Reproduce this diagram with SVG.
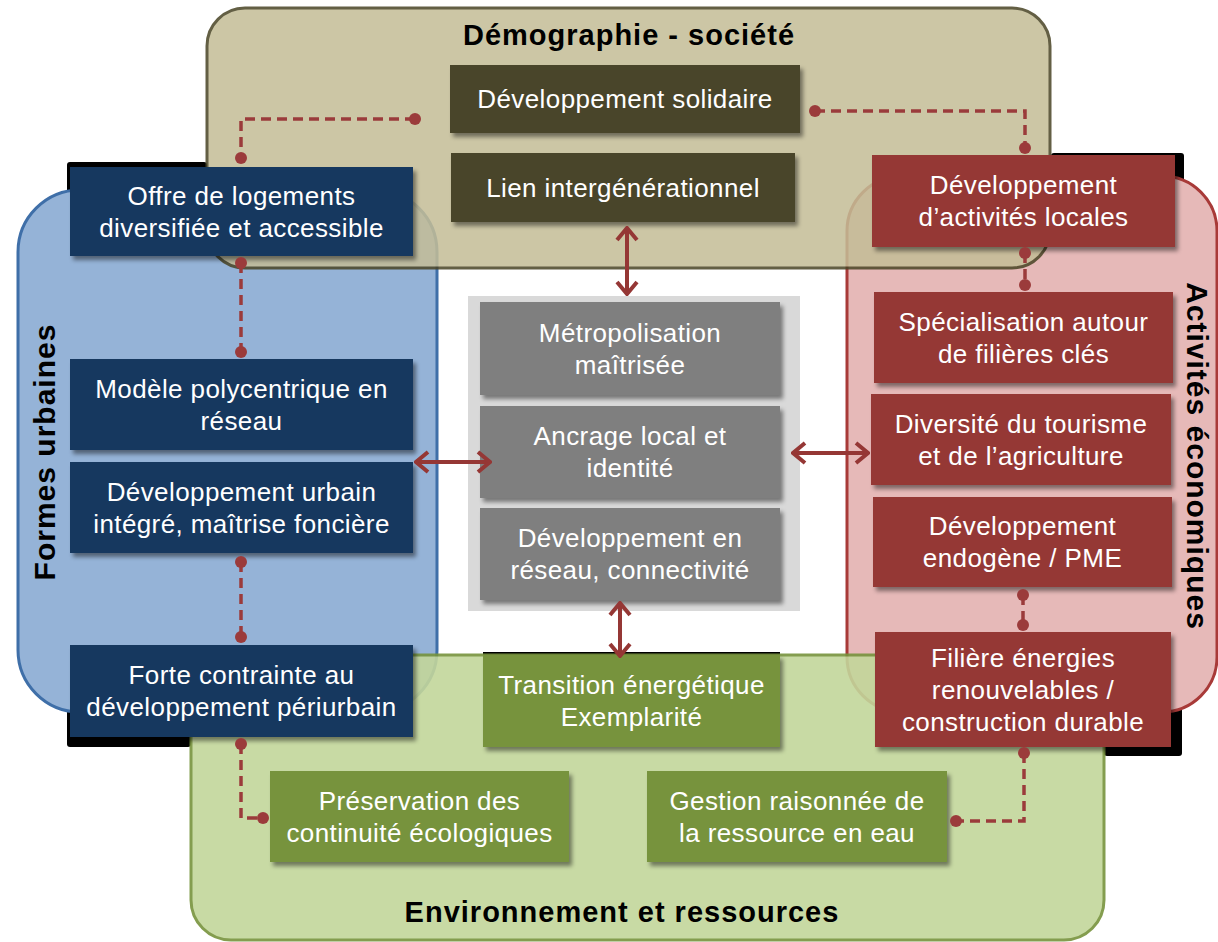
<svg xmlns="http://www.w3.org/2000/svg" width="1218" height="942" viewBox="0 0 1218 942">
<defs>
<style>
.t{font-family:"Liberation Sans",Arial,sans-serif;font-size:26px;letter-spacing:0.4px;fill:#ffffff;text-anchor:middle}
.h{font-family:"Liberation Sans",Arial,sans-serif;font-size:29px;font-weight:bold;letter-spacing:1px;fill:#000000;text-anchor:middle}
.v{font-family:"Liberation Sans",Arial,sans-serif;font-size:30px;font-weight:bold;letter-spacing:1px;fill:#000000;text-anchor:middle}
.nb{fill:#17375e;filter:url(#sh)}
.nt{fill:#4a4429;filter:url(#sh)}
.nr{fill:#953735;filter:url(#sh)}
.ng{fill:#77933c;filter:url(#sh)}
.ngr{fill:#7f7f7f;filter:url(#sh)}
.blk{fill:#000000}
.dash{fill:none;stroke:#9b3b3b;stroke-width:3.5;stroke-dasharray:10 6}
.dot{fill:#9b3b3b}
.arr{stroke:#953735;stroke-width:4;fill:none;marker-start:url(#ah);marker-end:url(#ah)}
</style>
<filter id="sh" x="-10%" y="-10%" width="130%" height="140%">
<feDropShadow dx="3" dy="4" stdDeviation="2" flood-color="#000" flood-opacity="0.45"/>
</filter>
<marker id="ah" markerUnits="userSpaceOnUse" viewBox="0 0 16 24" markerWidth="16" markerHeight="24" refX="14" refY="12" orient="auto-start-reverse">
<path d="M2,2 L14,12 L2,22" fill="none" stroke="#953735" stroke-width="4"/>
</marker>
</defs>
<rect width="1218" height="942" fill="#ffffff"/>

<g id="shadows">
<rect class="blk" x="67" y="162" width="140" height="40" rx="3"/>
<rect class="blk" x="1051" y="153" width="133" height="50" rx="3"/>
<rect class="blk" x="67" y="680" width="124" height="67" rx="3"/>
<rect class="blk" x="1104" y="690" width="78" height="66" rx="3"/>
<rect class="blk" x="483" y="652" width="297" height="6"/>
</g>

<g id="formes-urbaines">
<rect x="18" y="190" width="419" height="522" rx="62" fill="#95b3d7" stroke="#3f6fa8" stroke-width="3"/>
<text class="v" transform="translate(55,452) rotate(-90)">Formes urbaines</text>
</g>
<g id="activites-economiques">
<rect x="847" y="176" width="370" height="536" rx="55" fill="#e6b9b8" stroke="#a83a38" stroke-width="3"/>
<text class="v" transform="translate(1187,456) rotate(90)">Activités économiques</text>
</g>
<g id="environnement">
<rect x="191" y="655" width="913" height="285" rx="40" fill="#c3d69b" stroke="#77933c" stroke-width="3" opacity="0.9"/>
<text class="h" x="622" y="922">Environnement et ressources</text>
</g>
<g id="demographie">
<rect x="207" y="8" width="843" height="260" rx="38" fill="#c4bd97" stroke="#4a4526" stroke-width="3" opacity="0.86"/>
<text class="h" x="629" y="45">Démographie - société</text>
</g>
<g id="centre">
<rect x="468" y="296" width="332" height="315" fill="#d9d9d9"/>
</g>

<g id="n-solidaire"><rect class="nt" x="450" y="65" width="350" height="68"/><text class="t" x="625" y="108">Développement solidaire</text></g>
<g id="n-lien"><rect class="nt" x="451" y="153" width="344" height="69"/><text class="t" x="623" y="196.5">Lien intergénérationnel</text></g>

<g id="n-offre"><rect class="nb" x="70" y="167" width="343" height="89"/><text class="t" x="241.5" y="204.5">Offre de logements</text><text class="t" x="241.5" y="236.5">diversifiée et accessible</text></g>
<g id="n-modele"><rect class="nb" x="70" y="359" width="343" height="91"/><text class="t" x="241.5" y="397.5">Modèle polycentrique en</text><text class="t" x="241.5" y="429.5">réseau</text></g>
<g id="n-urbain"><rect class="nb" x="70" y="462" width="343" height="91"/><text class="t" x="241.5" y="500.5">Développement urbain</text><text class="t" x="241.5" y="532.5">intégré, maîtrise foncière</text></g>
<g id="n-forte"><rect class="nb" x="70" y="645" width="343" height="92"/><text class="t" x="241.5" y="684">Forte contrainte au</text><text class="t" x="241.5" y="716">développement périurbain</text></g>

<g id="n-metro"><rect class="ngr" x="480" y="302" width="300" height="93"/><text class="t" x="630" y="341.5">Métropolisation</text><text class="t" x="630" y="373.5">maîtrisée</text></g>
<g id="n-ancrage"><rect class="ngr" x="480" y="406" width="300" height="92"/><text class="t" x="630" y="445">Ancrage local et</text><text class="t" x="630" y="477">identité</text></g>
<g id="n-reseau"><rect class="ngr" x="480" y="508" width="300" height="92"/><text class="t" x="630" y="547">Développement en</text><text class="t" x="630" y="579">réseau, connectivité</text></g>

<g id="n-activites"><rect class="nr" x="872" y="155" width="303" height="92"/><text class="t" x="1023.5" y="194">Développement</text><text class="t" x="1023.5" y="226">d’activités locales</text></g>
<g id="n-specialisation"><rect class="nr" x="874" y="292" width="299" height="91"/><text class="t" x="1023.5" y="330.5">Spécialisation autour</text><text class="t" x="1023.5" y="362.5">de filières clés</text></g>
<g id="n-diversite"><rect class="nr" x="871" y="394" width="300" height="91"/><text class="t" x="1021" y="432.5">Diversité du tourisme</text><text class="t" x="1021" y="464.5">et de l’agriculture</text></g>
<g id="n-pme"><rect class="nr" x="873" y="497" width="299" height="90"/><text class="t" x="1022.5" y="535">Développement</text><text class="t" x="1022.5" y="567">endogène / PME</text></g>
<g id="n-filiere"><rect class="nr" x="875" y="632" width="296" height="115"/><text class="t" x="1023" y="666.5">Filière énergies</text><text class="t" x="1023" y="698.5">renouvelables /</text><text class="t" x="1023" y="730.5">construction durable</text></g>

<g id="n-transition"><rect class="ng" x="483" y="655" width="297" height="92"/><text class="t" x="631.5" y="694">Transition énergétique</text><text class="t" x="631.5" y="726">Exemplarité</text></g>
<g id="n-preservation"><rect class="ng" x="270" y="771" width="299" height="91"/><text class="t" x="419.5" y="809.5">Préservation des</text><text class="t" x="419.5" y="841.5">continuité écologiques</text></g>
<g id="n-gestion"><rect class="ng" x="647" y="771" width="300" height="91"/><text class="t" x="797" y="809.5">Gestion raisonnée de</text><text class="t" x="797" y="841.5">la ressource en eau</text></g>

<g id="connectors">
<path class="dash" d="M415,119 H241 V158"/><circle class="dot" cx="415" cy="119" r="6"/><circle class="dot" cx="241" cy="158" r="6"/>
<path class="dash" d="M241,263 V352"/><circle class="dot" cx="241" cy="263" r="6"/><circle class="dot" cx="241" cy="352" r="6"/>
<path class="dash" d="M241,562 V637"/><circle class="dot" cx="241" cy="562" r="6"/><circle class="dot" cx="241" cy="637" r="6"/>
<path class="dash" d="M241,744 V818 H263"/><circle class="dot" cx="241" cy="744" r="6"/><circle class="dot" cx="263" cy="818" r="6"/>
<path class="dash" d="M815,111 H1025 V148"/><circle class="dot" cx="815" cy="111" r="6"/><circle class="dot" cx="1025" cy="148" r="6"/>
<path class="dash" d="M1025,253 V285"/><circle class="dot" cx="1025" cy="253" r="6"/><circle class="dot" cx="1025" cy="285" r="6"/>
<path class="dash" d="M1023,595 V625"/><circle class="dot" cx="1023" cy="595" r="6"/><circle class="dot" cx="1023" cy="625" r="6"/>
<path class="dash" d="M1024,753 V821 H956"/><circle class="dot" cx="1024" cy="753" r="6"/><circle class="dot" cx="956" cy="821" r="6"/>
<path class="arr" d="M627,228 V294"/>
<path class="arr" d="M416,462 H490"/>
<path class="arr" d="M793,453 H868"/>
<path class="arr" d="M620,603 V656"/>
</g>
</svg>
